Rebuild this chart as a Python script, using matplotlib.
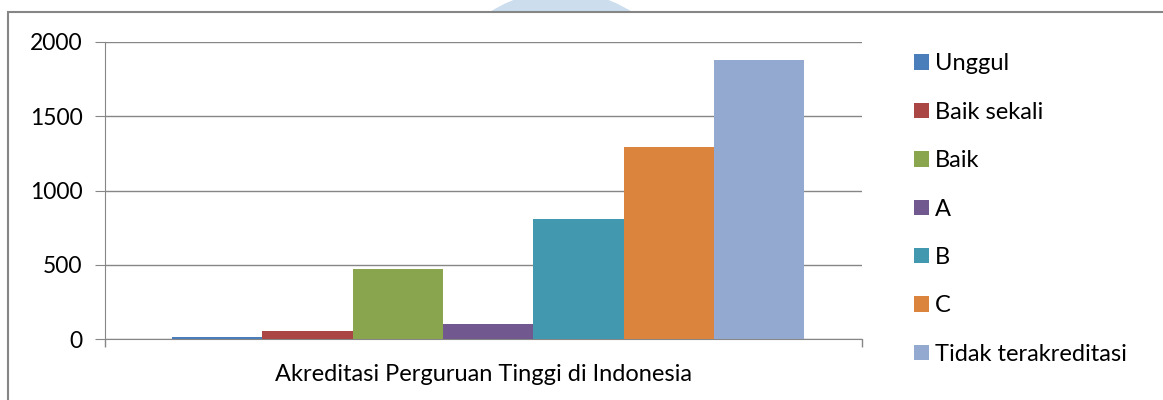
import numpy as np
import matplotlib.pyplot as plt
from matplotlib.patches import Rectangle, Ellipse

plt.rcParams['font.family'] = ['Lato', 'DejaVu Sans']

kategori = 'Akreditasi Perguruan Tinggi di Indonesia'
seri = ['Unggul', 'Baik sekali', 'Baik', 'A', 'B', 'C', 'Tidak terakreditasi']
nilai = [12, 54, 470, 98, 808, 1292, 1880]
warna = ['#4A7EBB', '#AA4643', '#89A54E', '#71588F', '#4198AF', '#DB843D', '#93A9CF']

fig = plt.figure(figsize=(11.63, 4), dpi=100)

# watermark + frame
fig.patches.append(Ellipse((561 / 1163, 1 - 122 / 400), 262 / 1163, 262 / 400, transform=fig.transFigure,
                           facecolor='#CCDDEE', edgecolor='none', zorder=0))
fig.patches.append(Rectangle((8 / 1163, -0.01), 1.0, 1 - 12 / 400 + 0.01, transform=fig.transFigure,
                             facecolor='white', edgecolor='#868686', linewidth=1.5, zorder=1))

ax = fig.add_axes([105 / 1163, 1 - 339 / 400, (862 - 105) / 1163, (339 - 42) / 400], zorder=2)
ax.patch.set_alpha(0)

n = len(seri)
for i, (s, v, c) in enumerate(zip(seri, nilai, warna)):
    ax.bar(i - (n - 1) / 2, v, width=1.0, color=c, label=s, zorder=3)

ax.set_ylim(0, 2000)
ax.set_xlim(-4.24, 4.14)
ax.set_yticks([0, 500, 1000, 1500, 2000])
ax.yaxis.grid(True, color='#868686', linewidth=1)
ax.set_axisbelow(True)
ax.set_xticks([-4.24, 4.14])
ax.set_xticklabels(['', ''])
ax.tick_params(axis='y', length=7, color='#868686', labelsize=16.5, pad=9)
ax.tick_params(axis='x', length=6, color='#868686', width=1)
for sp in ['top', 'right']:
    ax.spines[sp].set_visible(False)
for sp in ['left', 'bottom']:
    ax.spines[sp].set_color('#868686')
ax.text(0.5, -0.12, kategori, transform=ax.transAxes, ha='center', va='center', fontsize=17)

fig.legend(loc='upper left', bbox_to_anchor=(905 / 1163, 1 - 44 / 400), frameon=False,
           fontsize=17, handlelength=0.63, handleheight=0.63, handletextpad=0.25,
           labelspacing=1.16, borderaxespad=0)

fig.savefig('out.png', dpi=100)
